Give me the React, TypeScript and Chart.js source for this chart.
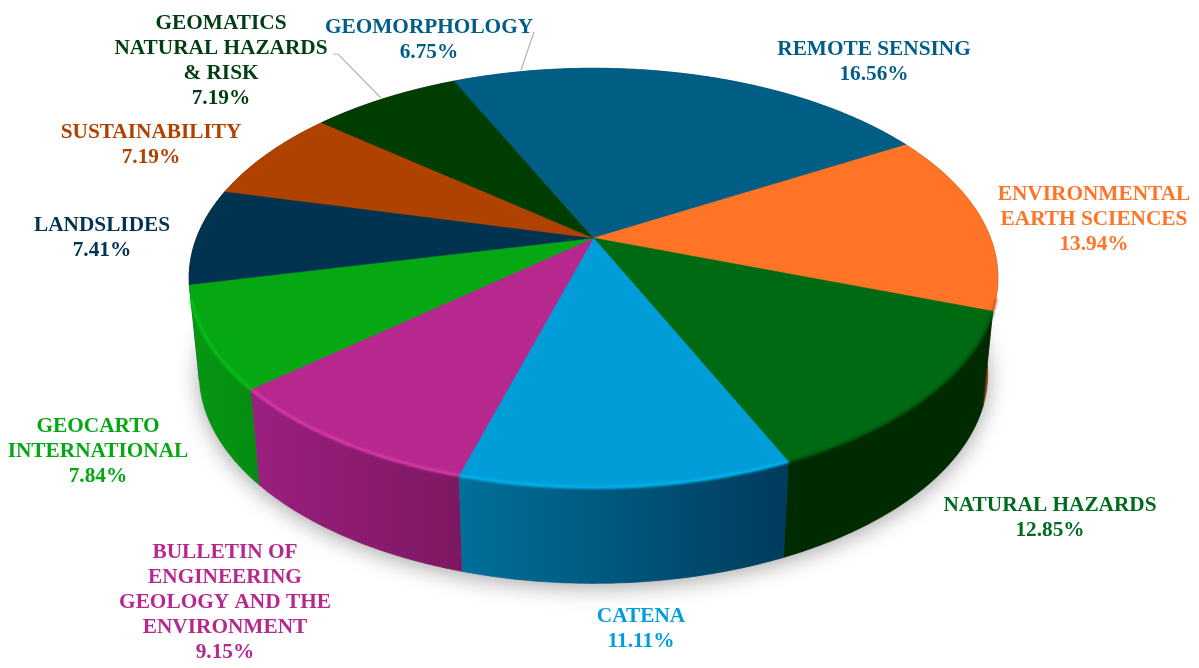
import React, { useEffect, useRef } from "react";
import { Chart, registerables } from "chart.js";

Chart.register(...registerables);

const categories: string[][] = [
  ["REMOTE SENSING"],
  ["ENVIRONMENTAL", "EARTH SCIENCES"],
  ["NATURAL HAZARDS"],
  ["CATENA"],
  ["BULLETIN OF", "ENGINEERING", "GEOLOGY AND THE", "ENVIRONMENT"],
  ["GEOCARTO", "INTERNATIONAL"],
  ["LANDSLIDES"],
  ["SUSTAINABILITY"],
  ["GEOMATICS", "NATURAL HAZARDS", "& RISK"],
  ["GEOMORPHOLOGY"],
];
const shares = [16.56, 13.94, 12.85, 11.11, 9.15, 7.84, 7.41, 7.19, 7.19, 6.75];
const faceColors = ["#005e85", "#ff7427", "#006a12", "#009dd9", "#b7288f", "#05a813", "#003350", "#b04200", "#003d00", "#005e85"];
const labelColors = ["#005e85", "#ff7427", "#006a1e", "#009dd9", "#b7288f", "#05a813", "#003350", "#b04200", "#003d12", "#005e85"];
const wallLeft = ["#003d57", "#a8481a", "#002b00", "#00709b", "#9c1f80", "#069812", "#002030", "#702a00", "#002600", "#003d57"];
const wallRight = ["#003d57", "#8a3a10", "#002a00", "#003b5c", "#7d1761", "#058c12", "#002030", "#702a00", "#002600", "#003d57"];
const rimColors = ["#005e85", "#d85a18", "#005a10", "#00b4ee", "#d83aa8", "#08c018", "#003350", "#b04200", "#003d00", "#005e85"];
const labelX = [874, 1094, 1050, 641, 225, 98, 102, 151, 221, 429];
const labelY = [55, 200, 511, 622, 558, 432, 231, 138, 29, 33];
const LINE = 25;
const PERSPECTIVE = 0.19;
const XSCALE = 397 / 238;
const YSCALE = 202 / 238;
const DEPTH = 96;
const BASE_X = 0.975;

function pt(el: any, a: number, lower = false): [number, number] {
  const R = el.outerRadius;
  const u = Math.cos(a);
  const v = -Math.sin(a);
  const s = 1 / (1 + PERSPECTIVE * v);
  let x = XSCALE * R * u * s;
  let y = -YSCALE * R * v * s;
  if (lower) {
    x *= BASE_X;
    y += DEPTH;
  }
  return [el.x + x, el.y + y];
}
function arcPts(el: any, lower = false) {
  const n = Math.max(8, Math.ceil((el.endAngle - el.startAngle) / 0.01));
  const out: [number, number][] = [];
  for (let i = 0; i <= n; i++) out.push(pt(el, el.startAngle + ((el.endAngle - el.startAngle) * i) / n, lower));
  return out;
}

const pie3d = {
  id: "pie3d",
  beforeDatasetDraw(chart: any) {
    const ctx: CanvasRenderingContext2D = chart.ctx;
    const els: any[] = chart.getDatasetMeta(0).data;
    ctx.save();

    // soft ground shadow beneath the base ring
    ctx.save();
    ctx.shadowColor = "rgba(0,0,0,0.35)";
    ctx.shadowBlur = 22;
    ctx.shadowOffsetY = 4;
    ctx.fillStyle = "#888";
    ctx.beginPath();
    els.forEach((el) => arcPts(el, true).forEach(([x, y]) => ctx.lineTo(x, y)));
    ctx.closePath();
    ctx.fill();
    ctx.restore();

    // side walls, back to front
    const order = els
      .map((el, i) => ({ el, i, d: pt(el, (el.startAngle + el.endAngle) / 2)[1] }))
      .sort((a, b) => a.d - b.d);
    order.forEach(({ el, i }) => {
      const top = arcPts(el);
      const low = arcPts(el, true);
      const xs = top.concat(low).map((p) => p[0]);
      const g = ctx.createLinearGradient(Math.min(...xs), 0, Math.max(...xs), 0);
      g.addColorStop(0, wallLeft[i]);
      g.addColorStop(1, wallRight[i]);
      ctx.fillStyle = g;
      ctx.strokeStyle = g;
      ctx.lineWidth = 0.6;
      ctx.beginPath();
      top.forEach(([x, y]) => ctx.lineTo(x, y));
      low.reverse().forEach(([x, y]) => ctx.lineTo(x, y));
      ctx.closePath();
      ctx.fill();
      ctx.stroke();
    });

    // top faces
    els.forEach((el, i) => {
      ctx.fillStyle = faceColors[i];
      ctx.strokeStyle = faceColors[i];
      ctx.lineWidth = 0.5;
      ctx.beginPath();
      ctx.moveTo(el.x, el.y);
      arcPts(el).forEach(([x, y]) => ctx.lineTo(x, y));
      ctx.closePath();
      ctx.fill();
      ctx.stroke();
    });

    // blurred rim between face and wall
    ctx.save();
    ctx.filter = "blur(1.2px)";
    els.forEach((el, i) => {
      ctx.strokeStyle = rimColors[i];
      ctx.lineWidth = 3;
      ctx.beginPath();
      arcPts(el)
        .filter((p) => p[1] > el.y + 60)
        .forEach(([x, y]) => ctx.lineTo(x, y));
      ctx.stroke();
    });
    ctx.restore();
    ctx.restore();
    return false;
  },
  afterDraw(chart: any) {
    const ctx: CanvasRenderingContext2D = chart.ctx;
    ctx.save();
    ctx.strokeStyle = "#b4b4b4";
    ctx.lineWidth = 1.2;
    ctx.beginPath();
    ctx.moveTo(333, 54);
    ctx.lineTo(338, 54);
    ctx.lineTo(381, 98);
    ctx.moveTo(534, 32);
    ctx.lineTo(521, 70);
    ctx.stroke();

    ctx.textAlign = "center";
    ctx.textBaseline = "alphabetic";
    ctx.font = 'bold 21.3px "Liberation Serif"';
    categories.forEach((lines, i) => {
      ctx.fillStyle = labelColors[i];
      lines.forEach((t, k) => ctx.fillText(t, labelX[i], labelY[i] + k * LINE));
      ctx.fillText(shares[i].toFixed(2) + "%", labelX[i], labelY[i] + lines.length * LINE);
    });
    ctx.restore();
  },
};

export default function App() {
  const ref = useRef<HTMLCanvasElement>(null);
  useEffect(() => {
    const chart = new Chart(ref.current!, {
      type: "pie",
      data: {
        labels: categories.map((l) => l.join(" ")),
        datasets: [{ data: shares, backgroundColor: faceColors, borderWidth: 0 }],
      },
      options: {
        responsive: false,
        animation: false,
        devicePixelRatio: 1,
        layout: { padding: { left: 0, right: 12, top: 0, bottom: 192 } },
        plugins: { legend: { display: false }, tooltip: { enabled: false } },
      },
      plugins: [pie3d],
    } as any);
    return () => chart.destroy();
  }, []);
  return (
    <canvas
      ref={ref}
      width={1199}
      height={668}
      style={{ position: "absolute", left: 0, top: 0, background: "#fff" }}
    />
  );
}
